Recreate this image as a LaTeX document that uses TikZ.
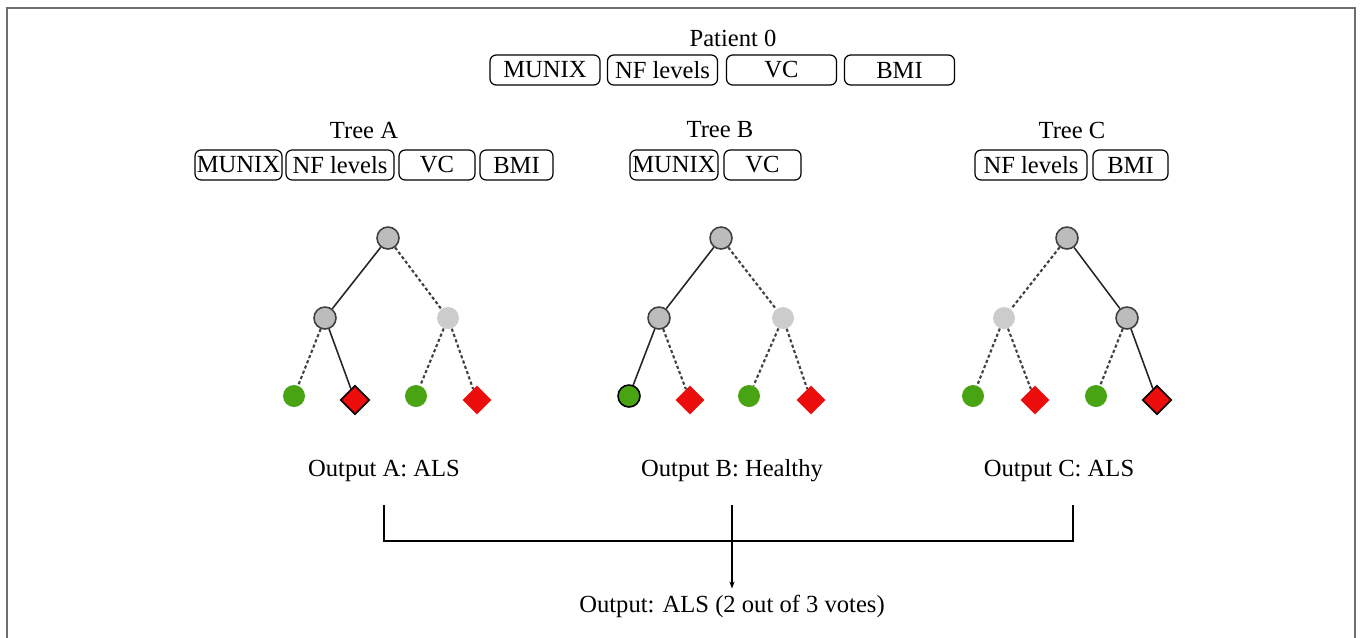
\documentclass[tikz,border=0pt]{standalone}
\usepackage{fontspec}
\setmainfont{Liberation Serif}
\usetikzlibrary{shapes.geometric,arrows.meta}

\definecolor{nodegray}{RGB}{188,188,188}
\definecolor{palegray}{RGB}{204,204,204}
\definecolor{leafgreen}{RGB}{72,164,18}
\definecolor{leafred}{RGB}{236,12,12}
\definecolor{framegray}{RGB}{110,110,110}

\begin{document}
\begin{tikzpicture}[x=0.02cm,y=-0.02cm,font=\fontsize{14}{16}\selectfont]
	\tikzstyle{feat}=[draw,rounded corners=3.5pt,minimum height=0.6cm,inner xsep=1pt,inner ysep=0pt,line width=0.7pt]
	\tikzstyle{split}=[draw=black!75,fill=nodegray,circle,minimum size=0.44cm,inner sep=0pt,line width=0.9pt]
	\tikzstyle{skip}=[fill=palegray,circle,minimum size=0.44cm,inner sep=0pt]
	\tikzstyle{healthy}=[fill=leafgreen,circle,minimum size=0.44cm,inner sep=0pt]
	\tikzstyle{als}=[fill=leafred,diamond,minimum size=0.58cm,inner sep=0pt]
	\tikzstyle{taken}=[line width=0.9pt,black!85]
	\tikzstyle{nottaken}=[line width=1.2pt,black!75,dash pattern=on 1.8pt off 1.4pt]

	\useasboundingbox (0,0) rectangle (1360,637);
	\draw[framegray,line width=0.9pt] (7,700) -- (7,8) -- (1355,8) -- (1355,700);

	% patient
	\node (pat) at (733,38) {Patient 0};
	\node[feat,minimum width=2.2cm](pmunix) at (545,70) {MUNIX};
	\node[feat,minimum width=2.2cm](pnf) at (662.5,70) {NF levels};
	\node[feat,minimum width=2.2cm](pvc) at (781.5,70) {VC};
	\node[feat,minimum width=2.2cm](pbmi) at (899.5,70) {BMI};

	% feature subsets
	\node (ta) at (364,130) {Tree A};
	\node[feat,minimum width=1.74cm](amunix) at (238.5,165) {MUNIX};
	\node[feat,minimum width=2.16cm](anf) at (340,165) {NF levels};
	\node[feat,minimum width=1.52cm](avc) at (437,165) {VC};
	\node[feat,minimum width=1.46cm](abmi) at (516.5,165) {BMI};

	\node (tb) at (720,130) {Tree B};
	\node[feat,minimum width=1.76cm](bmunix) at (674,165) {MUNIX};
	\node[feat,minimum width=1.54cm](bvc) at (762.5,165) {VC};

	\node (tc) at (1072,130) {Tree C};
	\node[feat,minimum width=2.24cm](cnf) at (1031,165) {NF levels};
	\node[feat,minimum width=1.5cm](cbmi) at (1130.5,165) {BMI};

	% tree A
	\node[split](ar) at (388,238) {};
	\node[split](al) at (325,318) {};
	\node[skip](ag) at (448,318) {};
	\node[healthy](a1) at (294,396) {};
	\node[als,draw=black,line width=0.9pt](a2) at (355,400) {};
	\node[healthy](a3) at (416,396) {};
	\node[als](a4) at (477,400) {};
	\draw[taken] (ar) -- (al);
	\draw[nottaken] (ar) -- (ag);
	\draw[nottaken] (al) -- (a1);
	\draw[taken] (al) -- (a2);
	\draw[nottaken] (ag) -- (a3);
	\draw[nottaken] (ag) -- (a4);

	% tree B
	\node[split](br) at (721,238) {};
	\node[split](bl) at (659,318) {};
	\node[skip](bg) at (783,318) {};
	\node[healthy,draw=black,line width=0.9pt](b1) at (629,396) {};
	\node[als](b2) at (690,400) {};
	\node[healthy](b3) at (749,396) {};
	\node[als](b4) at (811,400) {};
	\draw[taken] (br) -- (bl);
	\draw[nottaken] (br) -- (bg);
	\draw[taken] (bl) -- (b1);
	\draw[nottaken] (bl) -- (b2);
	\draw[nottaken] (bg) -- (b3);
	\draw[nottaken] (bg) -- (b4);

	% tree C
	\node[split](cr) at (1067,238) {};
	\node[skip](cg) at (1004,318) {};
	\node[split](cl) at (1127,318) {};
	\node[healthy](c1) at (973,396) {};
	\node[als](c2) at (1035,400) {};
	\node[healthy](c3) at (1096,396) {};
	\node[als,draw=black,line width=0.9pt](c4) at (1157,400) {};
	\draw[nottaken] (cr) -- (cg);
	\draw[taken] (cr) -- (cl);
	\draw[nottaken] (cg) -- (c1);
	\draw[nottaken] (cg) -- (c2);
	\draw[nottaken] (cl) -- (c3);
	\draw[taken] (cl) -- (c4);

	% votes
	\node (oa) at (384,471) {Output A: ALS};
	\node (ob) at (732,471) {Output B: Healthy};
	\node (oc) at (1059,471) {Output C: ALS};
	\node (out) at (732,606) {Output: ALS (2 out of 3 votes)};

	\coordinate (ja) at (384,505);
	\coordinate (jb) at (732,505);
	\coordinate (jc) at (1073,505);
	\draw[line width=0.7pt] (ja) -- ++(0,36) -| (jc);
	\draw[line width=0.7pt,-{Stealth[length=4pt,width=3pt]}] (jb) -- (out.north);
\end{tikzpicture}
\end{document}
